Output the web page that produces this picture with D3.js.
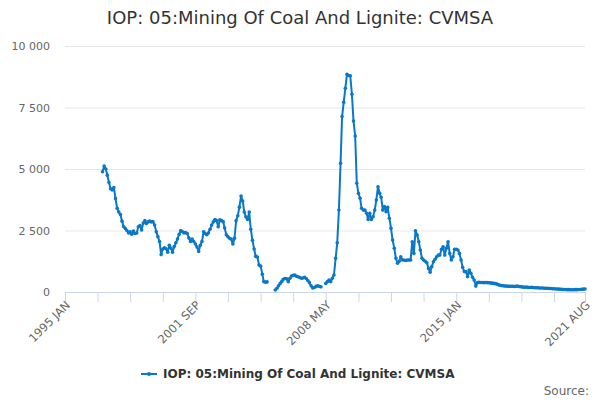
<!DOCTYPE html>
<html>
<head>
<meta charset="utf-8">
<script src="https://cdn.jsdelivr.net/npm/d3@7"></script>
<style>
  body { margin: 0; background: #fff; }
  text { font-family: "DejaVu Sans", sans-serif; }
</style>
</head>
<body>
<div class="chart"></div>
<script>
"use strict"

// series starts at 1996 DEC, one value per month, null = no data
const startMonth = new Date(1996, 11, 1);
const values = [
  4890, 5120, 5000, 4750, 4450, 4200, 4150, 4250, 3800, 3400,
  3250, 3150, 2880, 2650, 2580, 2500, 2400, 2450, 2350, 2480,
  2380, 2400, 2650, 2700, 2520, 2800, 2900, 2780, 2850, 2880,
  2850, 2860, 2720, 2450, 2250, 2050, 1520, 1750, 1800, 1760,
  1620, 1900, 1780, 1620, 1850, 2000, 2150, 2350, 2500, 2450,
  2400, 2420, 2380, 2200, 2050, 2150, 2050, 1950, 1830, 1650,
  1900, 2050, 2450, 2380, 2330, 2400, 2550, 2720, 2850, 2950,
  2900, 2650, 2930, 2900, 2860, 2600, 2330, 2250, 2180, 2150,
  1950, 2180, 2900, 3100, 3450, 3900, 3700, 3250, 3050, 2950,
  3250, 2550, 2100, 1750, 1450, 1420, 1100, 1050, 720, 420,
  400, 410,
  null, null, null, null,
  80, 150, 250, 350, 430, 520, 550, 540, 420, 560,
  650, 680, 690, 640, 620, 590, 560, 570, 600, 550,
  470, 380, 250, 160, 180, 230, 250, 230, 210,
  null, null,
  350, 420, 490, 420, 560, 690, 1370, 2000, 3330, 5230,
  7130, 7710, 8280, 8850, 8800, 8790, 8040, 6950, 6340, 4420,
  4010, 3810, 3400, 3330, 3330, 3200, 2950, 3200, 2950, 3060,
  3330, 3740, 4280, 4010, 3850, 3330, 3470, 3260, 3440, 3000,
  2590, 2110, 1780, 1370, 1170, 1250, 1430, 1300, 1300, 1280,
  1300, 1300, 1300, 2040, 1570, 2490, 2320, 2040, 1710, 1370,
  1300, 1250, 1190, 960, 800, 1030, 1230, 1330, 1430, 1500,
  1500, 1740, 1840, 1500, 1780, 2040, 1570, 1300, 1430, 1740,
  1740, 1710, 1570, 1300, 1000, 830, 830, 620, 890, 760,
  600, 490, 240, 380,
  390, 385, 385, 380, 385, 380, 375, 370, 360, 350, 340, 320,
  290, 270, 260, 250,
  240, 240, 235, 230, 235, 230, 225, 240, 235, 220, 210,
  200, 195, 200, 190, 185, 190, 180, 175, 170, 170, 165, 160, 160, 155, 150,
  150, 145, 140, 135, 130, 125, 120, 115, 110, 105, 100, 100, 95, 95, 90,
  90, 90, 95, 95, 100, 100, 110, 115, 120
];

const yTicks = [0, 2500, 5000, 7500, 10000];
const xStart = new Date(1995, 0, 1);
const xEnd = new Date(2021, 7, 1);
const xLabelMonths = [0, 80, 160, 240, 319];   // months after 1995 JAN
const seriesName = "IOP: 05:Mining Of Coal And Lignite: CVMSA";

const monthNames = ["JAN","FEB","MAR","APR","MAY","JUN","JUL","AUG","SEP","OCT","NOV","DEC"];
const color = "#0a78c8";

let data = values.map(function (v, i) {
  return { date: d3.timeMonth.offset(startMonth, i), val: v };
});

let s = d3.select(".chart")
  .append("svg")
  .attr("width", 600)
  .attr("height", 400);

let x = d3.scaleTime().domain([xStart, xEnd]).range([65, 585]);
let y = d3.scaleLinear().domain([0, 10000]).range([292, 46]);

// title
s.append("text")
  .attr("x", 300)
  .attr("y", 24)
  .attr("text-anchor", "middle")
  .attr("fill", "#333")
  .style("font-size", "18px")
  .text(seriesName);

// y grid + labels
let fmt = d3.formatLocale({ decimal: ".", thousands: " ", grouping: [3], currency: ["", ""] }).format(",");
let yAxis = d3.axisLeft(y)
  .tickValues(yTicks)
  .tickSize(-520)
  .tickPadding(15)
  .tickFormat(fmt);
let gy = s.append("g")
  .attr("transform", "translate(65,0)")
  .call(yAxis);
gy.select(".domain").remove();
gy.selectAll(".tick line").attr("stroke", "#e6e6e6");
gy.selectAll(".tick").filter(function (d) { return d === 0; }).select("line").remove();
gy.selectAll("text")
  .attr("fill", "#666")
  .style("font-size", "11px")
  .style("font-family", "DejaVu Sans, sans-serif");

// x axis
let tickDates = d3.range(0, 320, 20).map(function (m) { return d3.timeMonth.offset(xStart, m); });
tickDates.push(xEnd);
let labelDates = xLabelMonths.map(function (m) { return +d3.timeMonth.offset(xStart, m); });

let xAxis = d3.axisBottom(x)
  .tickValues(tickDates)
  .tickSize(10)
  .tickFormat("");
let gx = s.append("g")
  .attr("transform", "translate(0,292)")
  .call(xAxis);
gx.select(".domain").attr("stroke", "#ccd6eb");
gx.selectAll(".tick line").attr("stroke", "#ccd6eb");

s.append("g")
  .selectAll("text")
  .data(labelDates)
  .enter()
  .append("text")
  .attr("transform", function (d) {
    return "translate(" + (x(d) + 3) + ",303) rotate(-45)";
  })
  .attr("text-anchor", "end")
  .attr("dy", "0.35em")
  .attr("fill", "#666")
  .style("font-size", "11.5px")
  .text(function (d) {
    let dt = new Date(d);
    return dt.getFullYear() + " " + monthNames[dt.getMonth()];
  });

// line
let line = d3.line()
  .defined(function (d) { return d.val !== null; })
  .x(function (d) { return x(d.date); })
  .y(function (d) { return y(d.val); });

s.append("path")
  .datum(data)
  .attr("fill", "none")
  .attr("stroke", color)
  .attr("stroke-width", 2)
  .attr("stroke-linejoin", "round")
  .attr("d", line);

s.selectAll("circle.pt")
  .data(data.filter(function (d) { return d.val !== null; }))
  .enter()
  .append("circle")
  .attr("class", "pt")
  .attr("cx", function (d) { return x(d.date); })
  .attr("cy", function (d) { return y(d.val); })
  .attr("r", 1.8)
  .attr("fill", color);

// legend
let lg = s.append("g").attr("transform", "translate(141,374)");
lg.append("line")
  .attr("x1", 0).attr("x2", 16)
  .attr("y1", 0).attr("y2", 0)
  .attr("stroke", color)
  .attr("stroke-width", 2);
lg.append("circle")
  .attr("cx", 8).attr("cy", 0).attr("r", 2)
  .attr("fill", color);
lg.append("text")
  .attr("x", 22)
  .attr("y", 0)
  .attr("dy", "0.35em")
  .attr("fill", "#333")
  .style("font-size", "12px")
  .style("font-weight", "bold")
  .text(seriesName);

// credits
s.append("text")
  .attr("x", 589)
  .attr("y", 395)
  .attr("text-anchor", "end")
  .attr("fill", "#666")
  .style("font-size", "12px")
  .text("Source:");
</script>
</body>
</html>
